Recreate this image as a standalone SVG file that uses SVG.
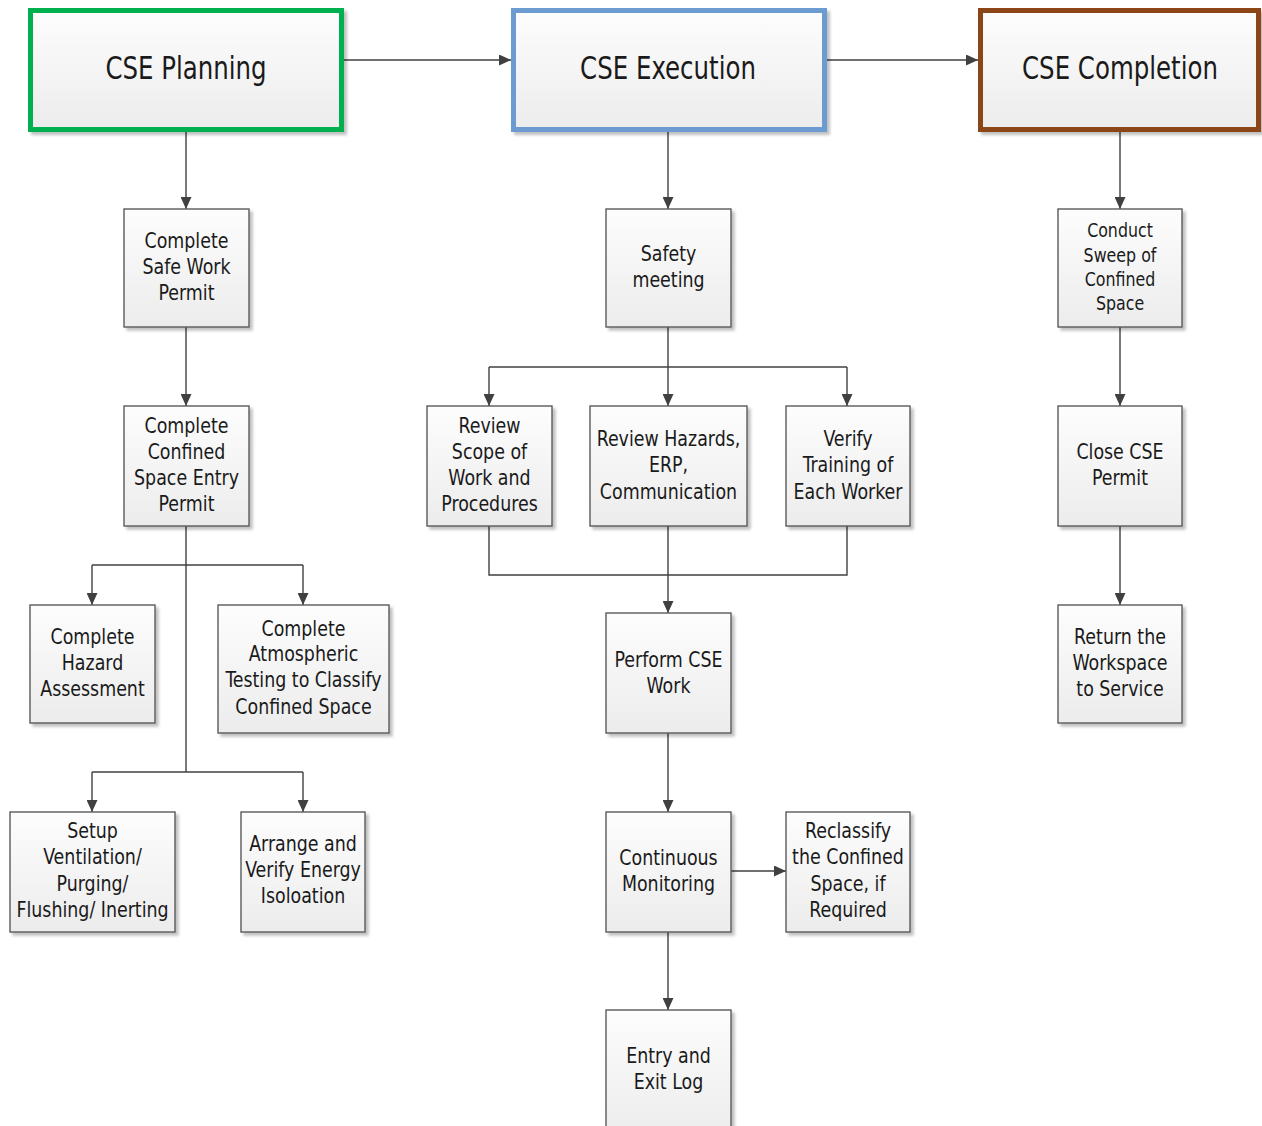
<svg xmlns="http://www.w3.org/2000/svg" width="1262" height="1126" viewBox="0 0 1262 1126">
<defs>
<linearGradient id="g" x1="0" y1="0" x2="0" y2="1">
<stop offset="0" stop-color="#fdfdfd"/>
<stop offset="1" stop-color="#ececec"/>
</linearGradient>
<filter id="sh" x="-10%" y="-10%" width="130%" height="130%">
<feGaussianBlur in="SourceAlpha" stdDeviation="1.5"/>
<feOffset dx="3" dy="3" result="b"/>
<feComponentTransfer><feFuncA type="linear" slope="0.25"/></feComponentTransfer>
<feMerge><feMergeNode/><feMergeNode in="SourceGraphic"/></feMerge>
</filter>
<marker id="ah" viewBox="0 0 12 11" refX="12" refY="5.5" markerWidth="12" markerHeight="11" markerUnits="userSpaceOnUse" orient="auto">
<path d="M0,0 L12,5.5 L0,11 z" fill="#404040"/>
</marker>
</defs>
<style>
.box{fill:url(#g);stroke:#5a5a5a;stroke-width:1.4;filter:url(#sh)}
.hdr{fill:url(#g);stroke-width:5;filter:url(#sh)}
.t{font-family:"DejaVu Sans Condensed","Liberation Sans",sans-serif;font-size:22px;fill:#1a1a1a;text-anchor:middle}
.ts{font-size:20px}
.th{font-family:"DejaVu Sans Condensed","Liberation Sans",sans-serif;font-size:32px;fill:#1a1a1a;text-anchor:middle}
.c{fill:none;stroke:#404040;stroke-width:1.4}
.ca{fill:none;stroke:#404040;stroke-width:1.4;marker-end:url(#ah)}
</style>
<rect width="1262" height="1126" fill="#ffffff"/>

<g id="connectors">
<path class="ca" d="M343,60 H511"/>
<path class="ca" d="M826,60 H978"/>
<path class="ca" d="M186,132 V209"/>
<path class="ca" d="M186,327 V406"/>
<path class="c" d="M186,526 V772"/>
<path class="c" d="M92,565 H303"/>
<path class="ca" d="M92,565 V605"/>
<path class="ca" d="M303,565 V605"/>
<path class="c" d="M92,772 H303"/>
<path class="ca" d="M92,772 V812"/>
<path class="ca" d="M303,772 V812"/>
<path class="ca" d="M668,132 V209"/>
<path class="c" d="M668,327 V367"/>
<path class="c" d="M489,367 H847"/>
<path class="ca" d="M489,367 V406"/>
<path class="ca" d="M668,367 V406"/>
<path class="ca" d="M847,367 V406"/>
<path class="c" d="M489,526 V575 H847 V526"/>
<path class="ca" d="M668,526 V613"/>
<path class="ca" d="M668,733 V812"/>
<path class="ca" d="M731,871 H786"/>
<path class="ca" d="M668,932 V1010"/>
<path class="ca" d="M1120,132 V209"/>
<path class="ca" d="M1120,327 V406"/>
<path class="ca" d="M1120,526 V605"/>
</g>

<g id="cse-planning">
<rect class="hdr" x="30.5" y="10.5" width="311" height="119" stroke="#00b050"/>
<text class="th" transform="matrix(0.85 0 0 1 186 0)" x="0" y="79">CSE Planning</text>
</g>
<g id="cse-execution">
<rect class="hdr" x="513.5" y="10.5" width="311" height="119" stroke="#6c9bd2"/>
<text class="th" transform="matrix(0.85 0 0 1 668 0)" x="0" y="79">CSE Execution</text>
</g>
<g id="cse-completion">
<rect class="hdr" x="980.5" y="10.5" width="278" height="119" stroke="#8b4513"/>
<text class="th" transform="matrix(0.85 0 0 1 1120 0)" x="0" y="79">CSE Completion</text>
</g>

<g id="safe-work-permit">
<rect class="box" x="124" y="209" width="125" height="118"/>
<text class="t" transform="matrix(0.88 0 0 1 186.5 0)"><tspan x="0" y="248">Complete</tspan><tspan x="0" y="274">Safe Work</tspan><tspan x="0" y="300">Permit</tspan></text>
</g>
<g id="cse-entry-permit">
<rect class="box" x="124" y="406" width="125" height="120"/>
<text class="t" transform="matrix(0.88 0 0 1 186.5 0)"><tspan x="0" y="433">Complete</tspan><tspan x="0" y="459">Confined</tspan><tspan x="0" y="485">Space Entry</tspan><tspan x="0" y="511">Permit</tspan></text>
</g>
<g id="hazard-assessment">
<rect class="box" x="30" y="605" width="125" height="118"/>
<text class="t" transform="matrix(0.88 0 0 1 92.5 0)"><tspan x="0" y="644">Complete</tspan><tspan x="0" y="670">Hazard</tspan><tspan x="0" y="696">Assessment</tspan></text>
</g>
<g id="atmospheric-testing">
<rect class="box" x="218" y="605" width="171" height="128"/>
<text class="t" transform="matrix(0.88 0 0 1 303.5 0)"><tspan x="0" y="636">Complete</tspan><tspan x="0" y="661">Atmospheric</tspan><tspan x="0" y="687">Testing to Classify</tspan><tspan x="0" y="714">Confined Space</tspan></text>
</g>
<g id="setup-ventilation">
<rect class="box" x="10" y="812" width="165" height="120"/>
<text class="t" transform="matrix(0.88 0 0 1 92.5 0)"><tspan x="0" y="838">Setup</tspan><tspan x="0" y="864">Ventilation/</tspan><tspan x="0" y="891">Purging/</tspan><tspan x="0" y="917">Flushing/ Inerting</tspan></text>
</g>
<g id="energy-isolation">
<rect class="box" x="241" y="812" width="124" height="120"/>
<text class="t" transform="matrix(0.88 0 0 1 303 0)"><tspan x="0" y="851">Arrange and</tspan><tspan x="0" y="877">Verify Energy</tspan><tspan x="0" y="903">Isoloation</tspan></text>
</g>

<g id="safety-meeting">
<rect class="box" x="606" y="209" width="125" height="118"/>
<text class="t" transform="matrix(0.88 0 0 1 668.5 0)"><tspan x="0" y="261">Safety</tspan><tspan x="0" y="287">meeting</tspan></text>
</g>
<g id="review-scope">
<rect class="box" x="427" y="406" width="125" height="120"/>
<text class="t" transform="matrix(0.88 0 0 1 489.5 0)"><tspan x="0" y="433">Review</tspan><tspan x="0" y="459">Scope of</tspan><tspan x="0" y="485">Work and</tspan><tspan x="0" y="511">Procedures</tspan></text>
</g>
<g id="review-hazards">
<rect class="box" x="590" y="406" width="157" height="120"/>
<text class="t" transform="matrix(0.88 0 0 1 668.5 0)"><tspan x="0" y="446">Review Hazards,</tspan><tspan x="0" y="472">ERP,</tspan><tspan x="0" y="499">Communication</tspan></text>
</g>
<g id="verify-training">
<rect class="box" x="786" y="406" width="124" height="120"/>
<text class="t" transform="matrix(0.88 0 0 1 848 0)"><tspan x="0" y="446">Verify</tspan><tspan x="0" y="472">Training of</tspan><tspan x="0" y="499">Each Worker</tspan></text>
</g>
<g id="perform-cse-work">
<rect class="box" x="606" y="613" width="125" height="120"/>
<text class="t" transform="matrix(0.88 0 0 1 668.5 0)"><tspan x="0" y="667">Perform CSE</tspan><tspan x="0" y="693">Work</tspan></text>
</g>
<g id="continuous-monitoring">
<rect class="box" x="606" y="812" width="125" height="120"/>
<text class="t" transform="matrix(0.88 0 0 1 668.5 0)"><tspan x="0" y="865">Continuous</tspan><tspan x="0" y="891">Monitoring</tspan></text>
</g>
<g id="reclassify">
<rect class="box" x="786" y="812" width="124" height="120"/>
<text class="t" transform="matrix(0.88 0 0 1 848 0)"><tspan x="0" y="838">Reclassify</tspan><tspan x="0" y="864">the Confined</tspan><tspan x="0" y="891">Space, if</tspan><tspan x="0" y="917">Required</tspan></text>
</g>
<g id="entry-exit-log">
<rect class="box" x="606" y="1010" width="125" height="125"/>
<text class="t" transform="matrix(0.88 0 0 1 668.5 0)"><tspan x="0" y="1063">Entry and</tspan><tspan x="0" y="1089">Exit Log</tspan></text>
</g>

<g id="conduct-sweep">
<rect class="box" x="1058" y="209" width="124" height="118"/>
<text class="t ts" transform="matrix(0.88 0 0 1 1120 0)"><tspan x="0" y="237">Conduct</tspan><tspan x="0" y="262">Sweep of</tspan><tspan x="0" y="286">Confined</tspan><tspan x="0" y="310">Space</tspan></text>
</g>
<g id="close-cse-permit">
<rect class="box" x="1058" y="406" width="124" height="120"/>
<text class="t" transform="matrix(0.88 0 0 1 1120 0)"><tspan x="0" y="459">Close CSE</tspan><tspan x="0" y="485">Permit</tspan></text>
</g>
<g id="return-workspace">
<rect class="box" x="1058" y="605" width="124" height="118"/>
<text class="t" transform="matrix(0.88 0 0 1 1120 0)"><tspan x="0" y="644">Return the</tspan><tspan x="0" y="670">Workspace</tspan><tspan x="0" y="696">to Service</tspan></text>
</g>
</svg>
